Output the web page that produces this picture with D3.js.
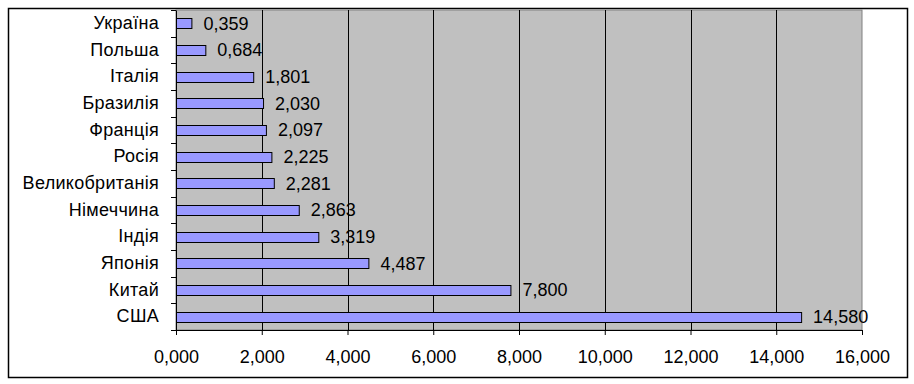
<!DOCTYPE html>
<html>
<head>
<meta charset="utf-8">
<script src="https://cdn.jsdelivr.net/npm/d3@7"></script>
<style>
  body { margin: 0; background: #fff; }
  svg { display: block; }
  svg text { font-family: "Liberation Sans", Arial, sans-serif; font-size: 18px; fill: #000; }
</style>
</head>
<body>
<svg id="chart" width="914" height="384"></svg>
<script>
const countries = ["Україна", "Польша", "Італія", "Бразилія", "Франція", "Росія",
  "Великобританія", "Німеччина", "Індія", "Японія", "Китай", "США"];
const values = [0.359, 0.684, 1.801, 2.030, 2.097, 2.225, 2.281, 2.863, 3.319, 4.487, 7.800, 14.580];
const xTicks = [0, 2, 4, 6, 8, 10, 12, 14, 16];

const svg = d3.select("#chart");
const margin = { top: 10, right: 52, bottom: 54, left: 176 };
const innerWidth = 914 - margin.left - margin.right;
const innerHeight = 384 - margin.top - margin.bottom;

const fmt = d => d3.format(".3f")(d).replace(".", ",");

svg.append("rect")
  .attr("x", 8.5).attr("y", 8.5)
  .attr("width", 899).attr("height", 369)
  .attr("fill", "#fff")
  .attr("stroke", "#000")
  .attr("stroke-width", 1.5);

const g = svg.append("g")
  .attr("transform", `translate(${margin.left}, ${margin.top})`);

const x = d3.scaleLinear().domain([0, 16]).range([0, innerWidth]);
const y = d3.scaleBand().domain(countries).range([0, innerHeight]);

g.append("rect")
  .attr("width", innerWidth)
  .attr("height", innerHeight)
  .attr("fill", "#c0c0c0")
  .attr("stroke", "#808080");

// vertical gridlines
g.selectAll(".grid")
  .data(xTicks.slice(1, -1))
  .enter()
  .append("line")
  .attr("x1", d => Math.round(x(d)) + 0.5)
  .attr("x2", d => Math.round(x(d)) + 0.5)
  .attr("y1", 0)
  .attr("y2", innerHeight)
  .attr("stroke", "#000");

const xAxis = g.append("g")
  .attr("transform", `translate(0, ${innerHeight})`)
  .call(d3.axisBottom(x).tickValues(xTicks).tickFormat(fmt).tickSize(5).tickPadding(15));
xAxis.attr("font-size", null).attr("font-family", null);
xAxis.select(".domain").attr("stroke", "#000");

// category axis: ticks at band boundaries
const yAxis = g.append("g")
  .call(d3.axisLeft(y).tickSize(0).tickPadding(17));
yAxis.attr("font-size", null).attr("font-family", null);
yAxis.select(".domain").attr("stroke", "#000");
yAxis.selectAll("text").attr("letter-spacing", 0.3);

g.selectAll(".ytick")
  .data(d3.range(countries.length + 1))
  .enter()
  .append("line")
  .attr("x1", -5)
  .attr("x2", 0)
  .attr("y1", i => Math.round(i * y.step()) + 0.5)
  .attr("y2", i => Math.round(i * y.step()) + 0.5)
  .attr("stroke", "#000");

const barH = 10;
g.selectAll(".bar")
  .data(countries)
  .enter()
  .append("rect")
  .attr("x", 0.5)
  .attr("y", (d, i) => Math.round(y(d) + y.bandwidth() / 2 - barH / 2) + 0.5)
  .attr("width", (d, i) => x(values[i]))
  .attr("height", barH)
  .attr("fill", "#9999ff")
  .attr("stroke", "#000");

g.selectAll(".val")
  .data(countries)
  .enter()
  .append("text")
  .attr("x", (d, i) => x(values[i]) + 12)
  .attr("y", d => y(d) + y.bandwidth() / 2)
  .attr("dy", "0.35em")
  .text((d, i) => fmt(values[i]));
</script>
</body>
</html>
